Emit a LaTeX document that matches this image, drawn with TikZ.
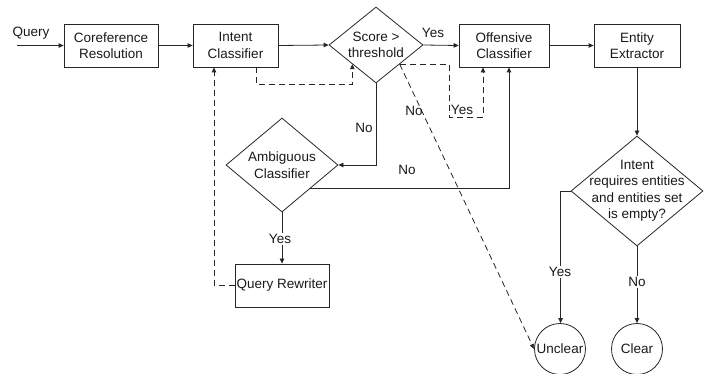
\documentclass[tikz,border=0pt]{standalone}
\usepackage{fontspec}
\setmainfont{Liberation Sans}
\usetikzlibrary{shapes.geometric,arrows.meta,calc}
\begin{document}
\begin{tikzpicture}[x=1pt,y=-1pt,
  every node/.style={font=\fontsize{13.5}{16.5}\selectfont, text=black!90},
  box/.style={draw, inner sep=0pt, minimum height=43pt, align=center},
  dia/.style={draw, diamond, inner sep=0pt},
  circ/.style={draw, circle, inner sep=0pt, minimum size=51pt},
  lbl/.style={inner sep=1pt},
  lblw/.style={inner sep=1pt, fill=white},
  conn/.style={line width=0.8pt, draw=black!85},
  arr/.style={conn, -{Triangle[length=5pt,width=4.5pt]}},
  darr/.style={arr, dash pattern=on 6pt off 4pt},
  line width=0.8pt, draw=black!85
]
\useasboundingbox (0,0) rectangle (707,374);

% boxes
\node[box, minimum width=94pt] (coref) at (111,45.5) {Coreference\\Resolution};
\node[box, minimum width=85pt] (intent) at (235.5,45.5) {Intent\\Classifier};
\node[box, minimum width=90pt] (off) at (504,45.5) {Offensive\\Classifier};
\node[box, minimum width=86pt] (ent) at (637,45.5) {Entity\\Extractor};
\node[box, minimum width=94pt] (rew) at (282,285.5) {Query Rewriter};

% diamonds
\node[dia, minimum width=94pt, minimum height=76pt] (score) at (376,45) {};
\node[align=center, inner sep=0pt] (scoret) at (score) {Score >\\threshold};
\node[dia, minimum width=112pt, minimum height=94pt] (amb) at (282,165) {};
\node[align=center, inner sep=0pt] (ambt) at (amb) {Ambiguous\\Classifier};
\node[dia, minimum width=132pt, minimum height=110pt] (dec) at (637,191) {};
\node[align=center, inner sep=0pt] (dect) at (dec) {Intent\\requires entities\\and entities set\\is empty?};

% circles
\node[circ] (unclear) at (560,349) {Unclear};
\node[circ] (clear) at (637,349) {Clear};

% query input
\coordinate (qin) at (17,45.5);
\node[lbl] (qlbl) at (31,33) {Query};
\draw[arr] (qin) -- (coref.west);

% main flow
\draw[arr] (coref.east) -- (intent.west);
\draw[arr] (intent.east) -- (score.west);
\draw[arr] (score.east) -- (off.west);
\node[lbl] (yes1) at (433,33) {Yes};
\draw[arr] (off.east) -- (ent.west);
\draw[arr] (ent.south) -- (dec.north);

% decision branches
\draw[arr] (dec.west) -- ++(-10,0) coordinate (decl) -- (decl |- unclear.north);
\node[lblw] (yes4) at (560,272) {Yes};
\draw[arr] (dec.south) -- (clear.north);
\node[lblw] (no4) at (637,282) {No};

% dashed intent -> score
\draw[darr] ([xshift=20.5pt]intent.south) -- ++(0,17) -| (score.south west);

% dashed score -> offensive (Yes)
\draw[darr] (score.south east) -- ++(49.5,0) -- ++(0,53) -| ([xshift=-21pt]off.south);
\node[lbl] (yes2) at (462,110) {Yes};

% dashed score -> unclear (No)
\draw[darr] (score.south east) -- (unclear.west);
\node[lbl] (no1) at (414,111) {No};

% score -> ambiguous (No)
\draw[arr] (score.south) |- (amb.east);
\node[lbl] (no2) at (364,128) {No};

% ambiguous -> offensive (No)
\draw[arr] (amb.south east) -- ([xshift=5pt]off.south |- amb.south east) -- ([xshift=5pt]off.south);
\node[lbl] (no3) at (407,170) {No};

% ambiguous -> rewriter (Yes)
\draw[arr] (amb.south) -- (rew.north);
\node[lblw] (yes3) at (280,239) {Yes};

% rewriter -> intent (dashed)
\draw[darr] (rew.west) -| ([xshift=-21.5pt]intent.south);
\end{tikzpicture}
\end{document}
